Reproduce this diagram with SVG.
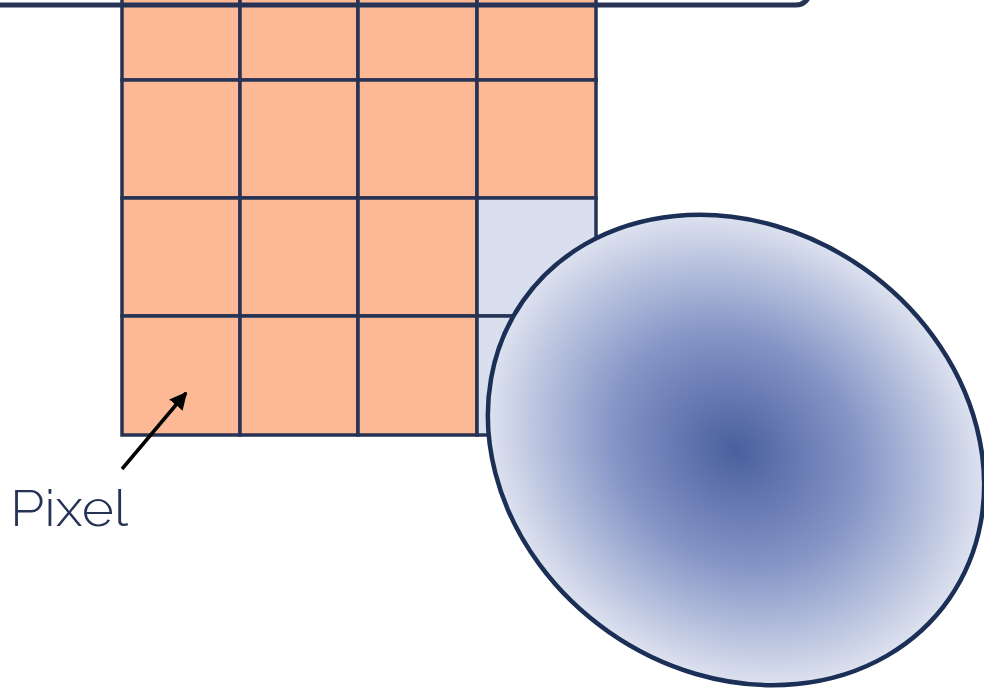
<svg xmlns="http://www.w3.org/2000/svg" width="984" height="688" viewBox="0 0 984 688">
<defs>
<style>
.cell{fill:#fdb995;stroke:#263354;stroke-width:3.5}
.cell.blue{fill:#d9dfee}
.lbl{font-family:Raleway,Lato,"Open Sans",sans-serif;font-weight:300;font-size:50px;fill:#263354}
</style>
<radialGradient id="g" cx="0.5" cy="0.5" r="0.5">
<stop offset="0" stop-color="#4a5f9e"/>
<stop offset="0.5" stop-color="#8595c6"/>
<stop offset="1" stop-color="#dde2ef"/>
</radialGradient>
<marker id="ah" viewBox="0 0 10 10" refX="9" refY="5" markerWidth="5" markerHeight="5" orient="auto" markerUnits="strokeWidth">
<path d="M0,0 L10,5 L0,10 z" fill="#000"/>
</marker>
</defs>
<g id="grid">
<rect class="cell" x="122" y="-38" width="118" height="118"/>
<rect class="cell" x="240" y="-38" width="118" height="118"/>
<rect class="cell" x="358" y="-38" width="119" height="118"/>
<rect class="cell" x="477" y="-38" width="119" height="118"/>
<rect class="cell" x="122" y="80" width="118" height="118"/>
<rect class="cell" x="240" y="80" width="118" height="118"/>
<rect class="cell" x="358" y="80" width="119" height="118"/>
<rect class="cell" x="477" y="80" width="119" height="118"/>
<rect class="cell" x="122" y="198" width="118" height="118"/>
<rect class="cell" x="240" y="198" width="118" height="118"/>
<rect class="cell" x="358" y="198" width="119" height="118"/>
<rect class="cell blue" x="477" y="198" width="119" height="118"/>
<rect class="cell" x="122" y="316" width="118" height="119"/>
<rect class="cell" x="240" y="316" width="118" height="119"/>
<rect class="cell" x="358" y="316" width="119" height="119"/>
<rect class="cell blue" x="477" y="316" width="119" height="119"/>
</g>
<g id="topbar">
<rect x="-30" y="-120" width="840" height="125" rx="14" fill="none" stroke="#263354" stroke-width="5"/>
</g>
<g id="blob">
<ellipse cx="736" cy="450" rx="260" ry="222" transform="rotate(35 736 450)" fill="url(#g)" stroke="#1b2f57" stroke-width="4.5"/>
</g>
<g id="connectors">
<line x1="122" y1="469" x2="186" y2="393" stroke="#000" stroke-width="3.5" marker-end="url(#ah)"/>
</g>
<g id="label">
<text class="lbl" x="10" y="526" textLength="118" lengthAdjust="spacingAndGlyphs">Pixel</text>
</g>
</svg>
